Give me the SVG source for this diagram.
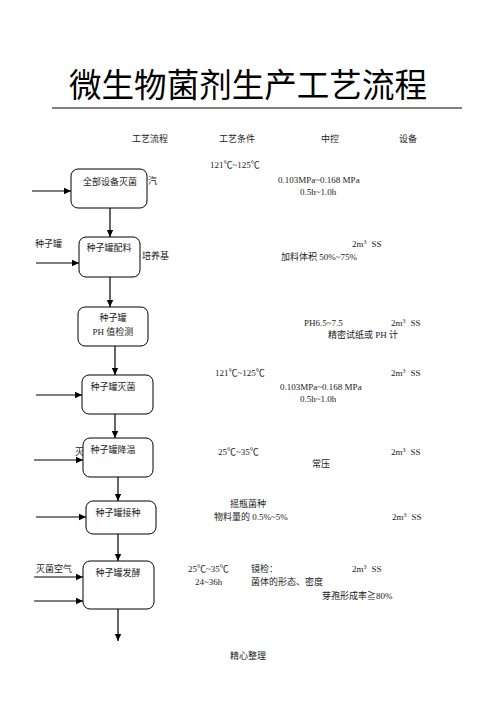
<svg xmlns="http://www.w3.org/2000/svg" width="496" height="702" viewBox="0 0 496 702">
<style>
text{font-family:"Liberation Serif","Noto Sans CJK SC",serif;font-size:9px;fill:#222}
.n{text-anchor:middle}
.title{font-family:"Noto Sans CJK SC","Noto Sans",sans-serif;font-size:33px;fill:#000;font-weight:400}
rect{fill:#fff;stroke:#000;stroke-width:1}
.c line{stroke:#000;stroke-width:1.2}
</style>
<defs>
<marker id="ah" markerWidth="8" markerHeight="8" refX="7" refY="4" orient="auto" markerUnits="userSpaceOnUse">
<path d="M0,0.8 L7,4 L0,7.2 Z" fill="#000"/>
</marker>
</defs>
<rect width="496" height="702" style="stroke:none"/>
<text class="title" x="69" y="97" textLength="358" lengthAdjust="spacingAndGlyphs">微生物菌剂生产工艺流程</text>
<line x1="52" y1="108" x2="462" y2="108" stroke="#000" stroke-width="1"/>
<g id="header">
<text class="n" x="150" y="142">工艺流程</text>
<text class="n" x="237" y="142">工艺条件</text>
<text class="n" x="330" y="142">中控</text>
<text class="n" x="408" y="142">设备</text>
</g>
<g id="side-labels">
<text x="148" y="184">汽</text>
<text x="35" y="247">种子罐</text>
<text x="142" y="259">培养基</text>
<text x="75" y="455">灭</text>
<text x="36" y="572">灭菌空气</text>
</g>
<g id="node1"><rect x="71" y="169" width="76" height="39" rx="7"/><text class="n" x="110" y="185">全部设备灭菌</text></g>
<g id="node2"><rect x="79" y="237" width="61" height="40" rx="7"/><text class="n" x="109" y="251">种子罐配料</text></g>
<g id="node3"><rect x="78" y="307" width="70" height="39" rx="7"/><text class="n" x="113" y="321">种子罐</text><text class="n" x="113" y="335">PH 值检测</text></g>
<g id="node4"><rect x="82" y="375" width="71" height="39" rx="7"/><text class="n" x="113" y="390">种子罐灭菌</text></g>
<g id="node5"><rect x="83" y="438" width="70" height="39" rx="7"/><text class="n" x="113" y="453">种子罐降温</text></g>
<g id="node6"><rect x="86" y="501" width="70" height="33" rx="7"/><text class="n" x="118" y="516">种子罐接种</text></g>
<g id="node7"><rect x="83" y="561" width="71" height="48" rx="7"/><text class="n" x="118" y="576">种子罐发酵</text></g>
<g id="connectors" class="c">
<line x1="32" y1="191" x2="71" y2="191" marker-end="url(#ah)"/>
<line x1="110" y1="208" x2="110" y2="237" marker-end="url(#ah)"/>
<line x1="36" y1="263" x2="79" y2="263" marker-end="url(#ah)"/>
<line x1="110" y1="277" x2="110" y2="307" marker-end="url(#ah)"/>
<line x1="115" y1="346" x2="115" y2="375" marker-end="url(#ah)"/>
<line x1="36" y1="395" x2="82" y2="395" marker-end="url(#ah)"/>
<line x1="115" y1="414" x2="115" y2="438" marker-end="url(#ah)"/>
<line x1="34" y1="460" x2="83" y2="460" marker-end="url(#ah)"/>
<line x1="118" y1="477" x2="118" y2="501" marker-end="url(#ah)"/>
<line x1="36" y1="517" x2="86" y2="517" marker-end="url(#ah)"/>
<line x1="118" y1="534" x2="118" y2="561" marker-end="url(#ah)"/>
<line x1="34" y1="577" x2="83" y2="577" marker-end="url(#ah)"/>
<line x1="34" y1="601" x2="83" y2="601" marker-end="url(#ah)"/>
<line x1="118" y1="609" x2="118" y2="641" marker-end="url(#ah)"/>
</g>
<g id="details">
<text x="210" y="168">121℃~125℃</text>
<text x="278" y="183">0.103MPa~0.168 MPa</text>
<text x="300" y="195">0.5h~1.0h</text>
<text x="352" y="247">2m<tspan dy="-3" font-size="6">3</tspan><tspan dx="5" dy="3">SS</tspan></text>
<text x="281" y="260">加料体积 50%~75%</text>
<text x="304" y="326">PH6.5~7.5</text>
<text x="391" y="326">2m<tspan dy="-3" font-size="6">3</tspan><tspan dx="5" dy="3">SS</tspan></text>
<text x="328" y="338">精密试纸或 PH 计</text>
<text x="215" y="376">121℃~125℃</text>
<text x="391" y="376">2m<tspan dy="-3" font-size="6">3</tspan><tspan dx="5" dy="3">SS</tspan></text>
<text x="280" y="390">0.103MPa~0.168 MPa</text>
<text x="300" y="402">0.5h~1.0h</text>
<text x="218" y="455">25℃~35℃</text>
<text x="391" y="455">2m<tspan dy="-3" font-size="6">3</tspan><tspan dx="5" dy="3">SS</tspan></text>
<text x="312" y="467">常压</text>
<text x="230" y="507">摇瓶菌种</text>
<text x="214" y="520">物料量的 0.5%~5%</text>
<text x="392" y="520">2m<tspan dy="-3" font-size="6">3</tspan><tspan dx="5" dy="3">SS</tspan></text>
<text x="188" y="572">25℃~35℃</text>
<text x="251" y="572">镜检：</text>
<text x="352" y="572">2m<tspan dy="-3" font-size="6">3</tspan><tspan dx="5" dy="3">SS</tspan></text>
<text x="195" y="585">24~36h</text>
<text x="251" y="585">菌体的形态、密度</text>
<text x="322" y="599">芽孢形成率≧80%</text>
<text class="n" x="248" y="659">精心整理</text>
</g>
</svg>
